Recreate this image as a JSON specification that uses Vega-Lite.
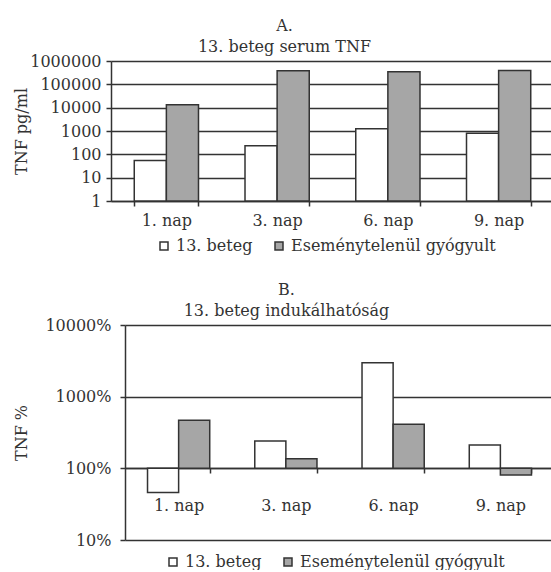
{
  "$schema": "https://vega.github.io/schema/vega-lite/v6.json",
  "background": "white",
  "padding": {"left": 12, "top": 18, "right": 0, "bottom": 0},
  "config": {
    "font": "DejaVu Serif",
    "view": {"stroke": null},
    "axis": {
      "labelFont": "DejaVu Serif", "labelFontSize": 16, "labelColor": "#333333",
      "titleFont": "DejaVu Serif", "titleFontSize": 16, "titleFontWeight": "normal", "titleColor": "#333333",
      "domainColor": "#333333", "tickColor": "#333333", "gridColor": "#333333",
      "domainWidth": 1.5, "tickWidth": 1.5, "gridWidth": 1.5, "gridOpacity": 1
    },
    "title": {"font": "DejaVu Serif", "fontSize": 16, "fontWeight": "normal", "color": "#333333", "lineHeight": 21, "offset": -2},
    "legend": {
      "labelFont": "DejaVu Serif", "labelFontSize": 16, "labelColor": "#333333", "labelLimit": 0,
      "symbolType": "square", "symbolSize": 64, "symbolStrokeColor": "#333333", "symbolStrokeWidth": 1.5,
      "columnPadding": 18, "labelOffset": 4, "padding": 0
    }
  },
  "spacing": 28,
  "resolve": {
    "scale": {"color": "independent", "x": "independent", "y": "independent", "xOffset": "independent"},
    "legend": {"color": "independent"}
  },
  "vconcat": [
    {
      "spacing": 0,
      "hconcat": [
        {
          "width": 1, "height": 1,
          "data": {"values": [{"t": ""}]},
          "mark": {"type": "text", "text": ""}
        },
        {
          "width": 443,
          "height": 140,
          "title": {"text": ["A.", "13. beteg serum TNF"], "anchor": "middle", "dx": -48},
          "data": {"values": [
            {"nap": "1. nap", "csoport": "13. beteg", "tnf": 55},
            {"nap": "1. nap", "csoport": "Eseménytelenül gyógyult", "tnf": 13500},
            {"nap": "3. nap", "csoport": "13. beteg", "tnf": 234},
            {"nap": "3. nap", "csoport": "Eseménytelenül gyógyult", "tnf": 385000},
            {"nap": "6. nap", "csoport": "13. beteg", "tnf": 1240},
            {"nap": "6. nap", "csoport": "Eseménytelenül gyógyult", "tnf": 350000},
            {"nap": "9. nap", "csoport": "13. beteg", "tnf": 805},
            {"nap": "9. nap", "csoport": "Eseménytelenül gyógyult", "tnf": 392000}
          ]},
          "mark": {"type": "bar", "stroke": "#333333", "strokeWidth": 1.5},
          "encoding": {
            "x": {
              "field": "nap", "type": "nominal", "sort": null,
              "scale": {"paddingInner": 0.42, "paddingOuter": 0.21},
              "axis": {"title": null, "labelAngle": 0, "tickBand": "extent", "tickSize": 5, "labelPadding": 6, "grid": false}
            },
            "xOffset": {"field": "csoport", "type": "nominal", "sort": null, "scale": {"paddingInner": 0, "paddingOuter": 0}},
            "y": {
              "field": "tnf", "type": "quantitative",
              "scale": {"type": "log", "domain": [1, 1000000]},
              "axis": {"title": "TNF pg/ml", "values": [1, 10, 100, 1000, 10000, 100000, 1000000], "format": "d", "grid": true, "tickSize": 5, "labelPadding": 5, "titlePadding": 0}
            },
            "y2": {"datum": 1},
            "color": {
              "field": "csoport", "type": "nominal", "sort": null,
              "scale": {"domain": ["13. beteg", "Eseménytelenül gyógyult"], "range": ["#ffffff", "#a6a6a6"]},
              "legend": {"orient": "none", "legendX": 144, "legendY": 177, "direction": "horizontal", "title": null}
            }
          }
        }
      ]
    },
    {
      "spacing": 0,
      "hconcat": [
        {
          "width": 1, "height": 1,
          "data": {"values": [{"t": ""}]},
          "mark": {"type": "text", "text": ""}
        },
        {
          "width": 429,
          "height": 215,
          "title": {"text": ["B.", "13. beteg indukálhatóság"], "anchor": "middle", "dx": -53},
          "data": {"values": [
            {"nap": "1. nap", "csoport": "13. beteg", "pct": 46},
            {"nap": "1. nap", "csoport": "Eseménytelenül gyógyult", "pct": 468},
            {"nap": "3. nap", "csoport": "13. beteg", "pct": 240},
            {"nap": "3. nap", "csoport": "Eseménytelenül gyógyult", "pct": 136},
            {"nap": "6. nap", "csoport": "13. beteg", "pct": 2970},
            {"nap": "6. nap", "csoport": "Eseménytelenül gyógyult", "pct": 411},
            {"nap": "9. nap", "csoport": "13. beteg", "pct": 211},
            {"nap": "9. nap", "csoport": "Eseménytelenül gyógyult", "pct": 81}
          ]},
          "mark": {"type": "bar", "stroke": "#333333", "strokeWidth": 1.5},
          "encoding": {
            "x": {
              "field": "nap", "type": "nominal", "sort": null,
              "scale": {"paddingInner": 0.42, "paddingOuter": 0.21},
              "axis": {"title": null, "labelAngle": 0, "tickBand": "extent", "tickSize": 5, "labelPadding": 24, "grid": false, "offset": -72}
            },
            "xOffset": {"field": "csoport", "type": "nominal", "sort": null, "scale": {"paddingInner": 0, "paddingOuter": 0}},
            "y": {
              "field": "pct", "type": "quantitative",
              "scale": {"type": "log", "domain": [10, 10000]},
              "axis": {"title": "TNF %", "values": [10, 100, 1000, 10000], "format": "d", "labelExpr": "datum.label + '%'", "grid": true, "tickSize": 5, "labelPadding": 9, "titlePadding": 15}
            },
            "y2": {"datum": 100},
            "color": {
              "field": "csoport", "type": "nominal", "sort": null,
              "scale": {"domain": ["13. beteg", "Eseménytelenül gyógyult"], "range": ["#ffffff", "#a6a6a6"]},
              "legend": {"orient": "none", "legendX": 153, "legendY": 229, "direction": "horizontal", "title": null}
            }
          }
        }
      ]
    }
  ]
}
